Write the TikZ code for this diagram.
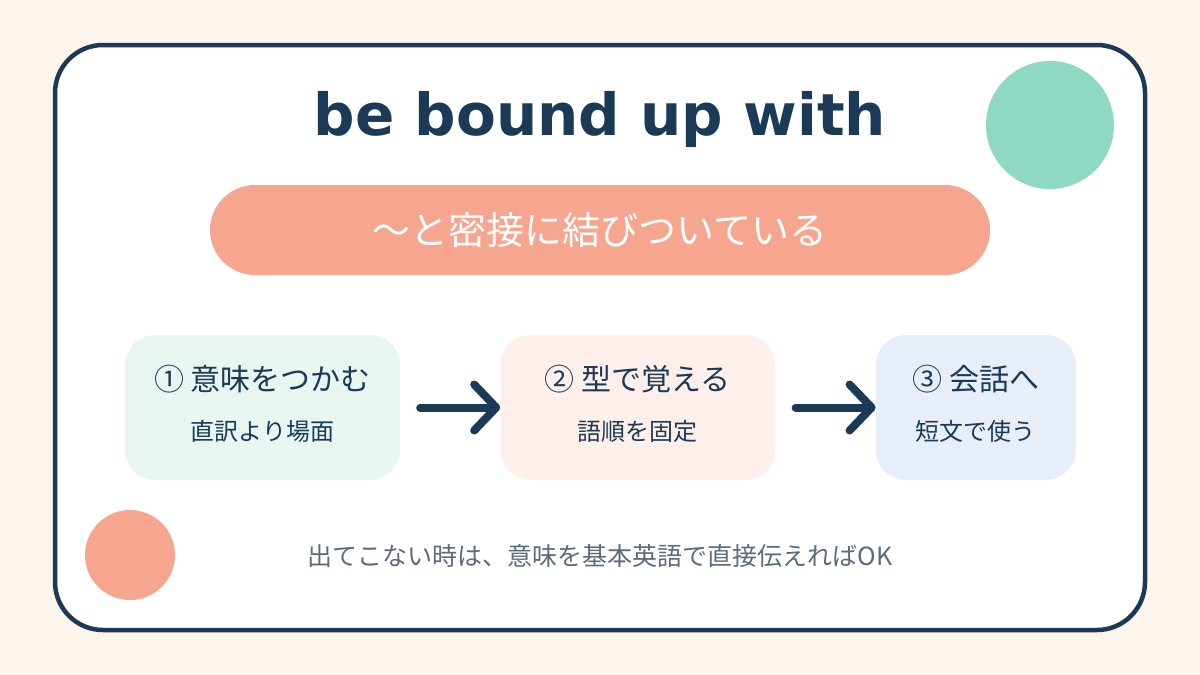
\documentclass[tikz,border=0pt]{standalone}
\usepackage{fontspec}
\setmainfont{Noto Sans CJK JP}
\newfontfamily\titlefont{DejaVu Sans}
\usetikzlibrary{arrows.meta,positioning,calc}

\definecolor{navy}{HTML}{1B3A57}
\definecolor{cream}{HTML}{FEF6EC}
\definecolor{mint}{HTML}{8FD8C4}
\definecolor{salmon}{HTML}{F6A68E}
\definecolor{mintbox}{HTML}{E8F5F1}
\definecolor{peachbox}{HTML}{FFEFEA}
\definecolor{bluebox}{HTML}{E8EEF8}
\definecolor{notegray}{HTML}{5B6B7B}

\begin{document}
\begin{tikzpicture}[x=1pt, y=-1pt,
  box/.style={rounded corners=30pt, minimum height=145pt, inner sep=0pt},
  head/.style={font=\fontsize{30}{35}\selectfont, text=navy},
  sub/.style={font=\fontsize{24}{28}\selectfont, text=navy},
  flow/.style={line width=8pt, navy, line cap=round, shorten <=20pt,
    -{Straight Barb[length=22pt, width=46pt, round]}}]
\useasboundingbox (0,0) rectangle (1200,675);
\fill[cream] (0,0) rectangle (1200,675);

% Card
\draw[line width=4.5pt, navy, fill=white, rounded corners=48pt] (55,45) rectangle (1145,630);

% Decorative circles
\fill[mint] (1050,125) circle[radius=64pt];
\fill[salmon] (130,555) circle[radius=45pt];

% Title and meaning
\node[anchor=base, text=navy, font=\titlefont\bfseries\fontsize{58}{68}\selectfont] (title) at (600,135) {be bound up with};
\node[fill=salmon, rounded corners=45pt, minimum width=780pt, minimum height=90pt, text=white,
  font=\fontsize{38}{44}\selectfont] (gloss) at (600,230) {～と密接に結びついている};

% Steps
\node[box, fill=mintbox, minimum width=275pt] (mean) at (262.5,407.5) {};
\node[box, fill=peachbox, minimum width=275pt, right=100pt of mean] (form) {};
\node[box, fill=bluebox, minimum width=200pt, right=100pt of form] (talk) {};

\node[head] (meanhead) at ($(mean.center)+(0,-28)$) {① 意味をつかむ};
\node[sub] (meansub) at ($(mean.center)+(0,24)$) {直訳より場面};
\node[head] (formhead) at ($(form.center)+(0,-28)$) {② 型で覚える};
\node[sub] (formsub) at ($(form.center)+(0,24)$) {語順を固定};
\node[head] (talkhead) at ($(talk.center)+(0,-28)$) {③ 会話へ};
\node[sub] (talksub) at ($(talk.center)+(0,24)$) {短文で使う};

\draw[flow] (mean) -- (form);
\draw[flow] (form) -- (talk);

% Note
\node[text=notegray, font=\fontsize{25}{29}\selectfont] (note) at (600,556) {出てこない時は、意味を基本英語で直接伝えればOK};
\end{tikzpicture}
\end{document}
